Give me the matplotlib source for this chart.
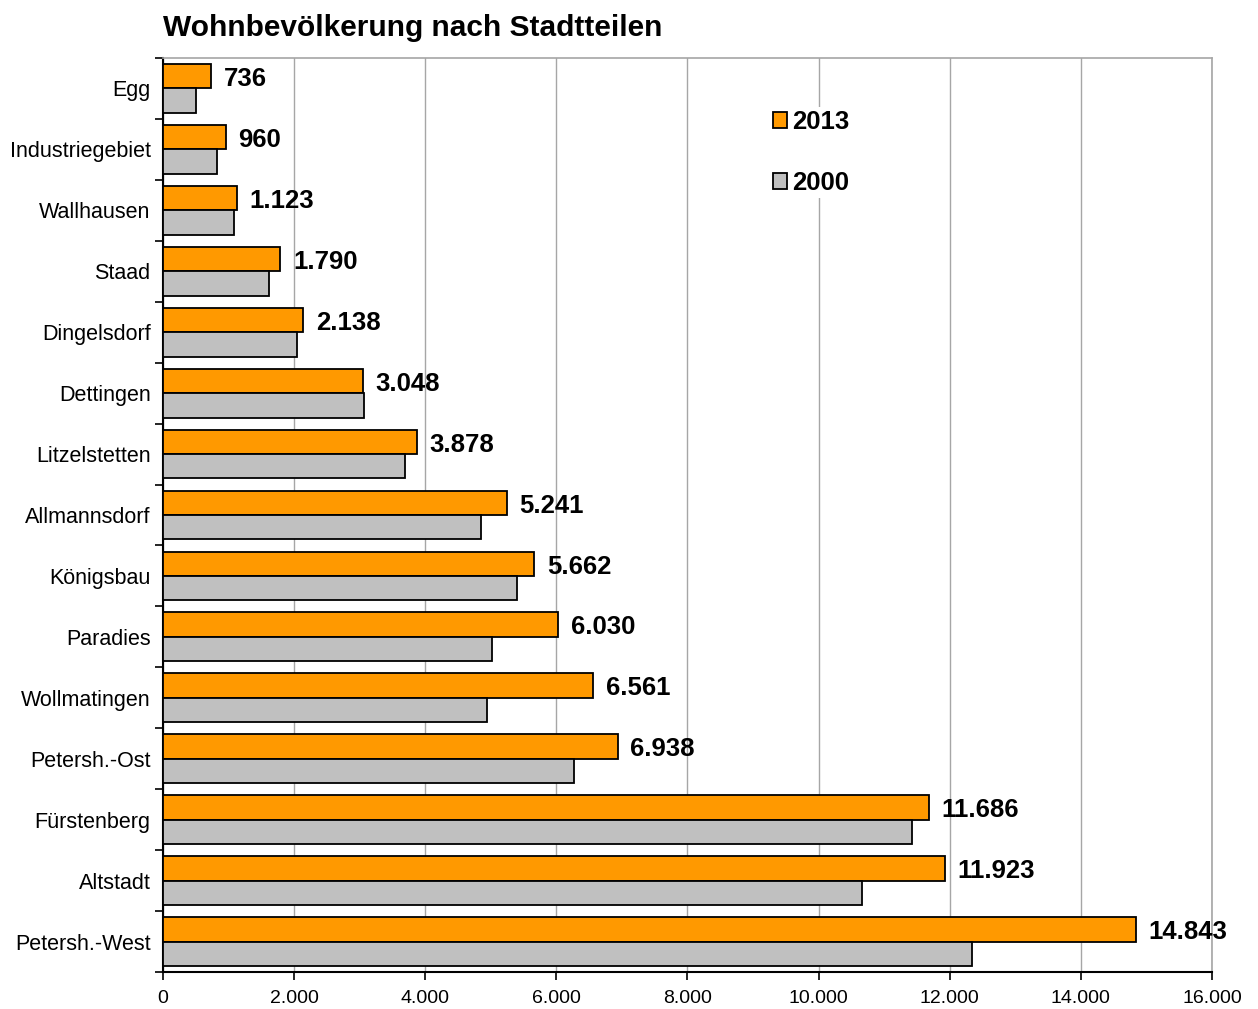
import numpy as np
import matplotlib.pyplot as plt
from matplotlib.ticker import FuncFormatter

plt.rcParams['font.family'] = ['Liberation Sans', 'DejaVu Sans']

# DATA
districts = ["Egg", "Industriegebiet", "Wallhausen", "Staad", "Dingelsdorf",
             "Dettingen", "Litzelstetten", "Allmannsdorf", "Königsbau", "Paradies",
             "Wollmatingen", "Petersh.-Ost", "Fürstenberg", "Altstadt", "Petersh.-West"]
pop_2013 = [736, 960, 1123, 1790, 2138, 3048, 3878, 5241, 5662, 6030,
            6561, 6938, 11686, 11923, 14843]
pop_2000 = [505, 825, 1085, 1620, 2045, 3065, 3690, 4850, 5400, 5020,
            4945, 6270, 11425, 10665, 12340]
xticks = [0, 2000, 4000, 6000, 8000, 10000, 12000, 14000, 16000]


def de_fmt(v, pos=None):
    return f"{int(v):,}".replace(",", ".")


fig = plt.figure(figsize=(12.58, 10.09), dpi=100)
ax = fig.add_axes([0.1296, 0.0367, 0.8338, 0.9058])

y = np.arange(len(districts))
h = 0.4
ax.barh(y - h / 2, pop_2013, height=h, color="#FF9900", edgecolor="black",
        linewidth=1.3, label="2013", zorder=3)
ax.barh(y + h / 2, pop_2000, height=h, color="#C0C0C0", edgecolor="black",
        linewidth=1.3, label="2000", zorder=3)

# value labels 2013
for yi, v in zip(y, pop_2013):
    ax.annotate(de_fmt(v), (v, yi - h / 2), xytext=(9, -2), textcoords="offset points",
                ha="left", va="center", fontsize=18.5, fontweight="bold", zorder=4)

ax.set_xlim(0, 16000)
ax.set_ylim(len(districts) - 0.5, -0.5)
ax.set_xticks(xticks)
ax.xaxis.set_major_formatter(FuncFormatter(de_fmt))
ax.tick_params(axis="x", labelsize=14, direction="out", length=6, width=1.2, pad=7)

ax.set_yticks(y)
ax.set_yticklabels(districts)
ax.set_yticks(np.arange(len(districts) + 1) - 0.5, minor=True)
ax.tick_params(axis="y", which="major", length=0, labelsize=15.5, pad=9)
ax.tick_params(axis="y", which="minor", length=6, width=1.2, direction="out")

ax.grid(axis="x", color="#A6A6A6", linewidth=1, zorder=0)
ax.set_axisbelow(True)

for s in ["left", "bottom"]:
    ax.spines[s].set_color("black")
    ax.spines[s].set_linewidth(1.5)
for s in ["top", "right"]:
    ax.spines[s].set_color("#A6A6A6")
    ax.spines[s].set_linewidth(1.2)

leg = ax.legend(loc="upper left", bbox_to_anchor=(0.579, 0.946), frameon=True,
                facecolor="white", edgecolor="none", framealpha=1,
                prop={"size": 18.5, "weight": "bold"}, handlelength=0.55,
                handleheight=0.55, handletextpad=0.2, labelspacing=1.45,
                borderpad=0.1, borderaxespad=0)

fig.text(0.1296, 0.972, "Wohnbevölkerung nach Stadtteilen", fontsize=21.5,
         fontweight="bold", ha="left", va="center")

fig.savefig("out.png", dpi=100)
